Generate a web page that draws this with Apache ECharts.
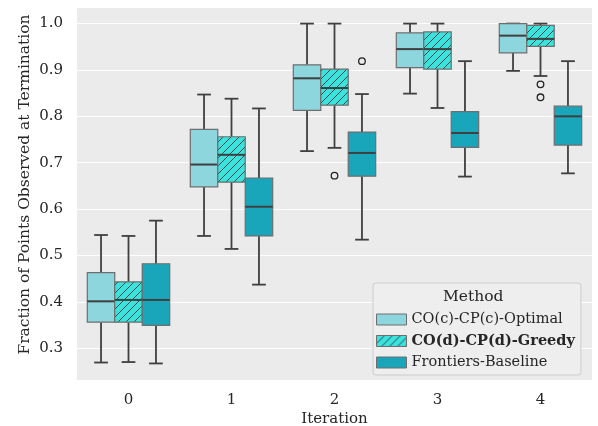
<!DOCTYPE html>
<html><head><meta charset="utf-8">
<script src="https://cdn.jsdelivr.net/npm/echarts@6/dist/echarts.min.js"></script>
<style>html,body{margin:0;padding:0;background:#fff}#c{width:598px;height:426px}</style>
</head><body><div id="c"></div>
<script>
// ---- data ----
const categories = ['0', '1', '2', '3', '4'];
const methodNames = ['CO(c)-CP(c)-Optimal', 'CO(d)-CP(d)-Greedy', 'Frontiers-Baseline'];
// [min, q1, median, q3, max] per iteration
const optimalStats = [
  [0.269, 0.356, 0.401, 0.463, 0.544],
  [0.542, 0.648, 0.696, 0.772, 0.847],
  [0.725, 0.813, 0.882, 0.911, 1.000],
  [0.849, 0.905, 0.945, 0.980, 1.000],
  [0.898, 0.937, 0.974, 1.000, 1.000]
];
const greedyStats = [
  [0.270, 0.356, 0.404, 0.443, 0.542],
  [0.514, 0.658, 0.717, 0.756, 0.838],
  [0.732, 0.824, 0.861, 0.902, 1.000],
  [0.818, 0.902, 0.945, 0.982, 1.000],
  [0.887, 0.951, 0.967, 0.996, 1.000]
];
const baselineStats = [
  [0.267, 0.349, 0.404, 0.482, 0.575],
  [0.437, 0.542, 0.605, 0.667, 0.817],
  [0.534, 0.671, 0.721, 0.766, 0.848],
  [0.670, 0.733, 0.764, 0.810, 0.919],
  [0.677, 0.738, 0.800, 0.822, 0.919]
];
// outliers: [iteration index, value]
const optimalOutliers = [];
const greedyOutliers = [[2, 0.672], [4, 0.869], [4, 0.841]];
const baselineOutliers = [[2, 0.919]];

// ---- styling ----
const fills = ['#8ED6DE', '#3BE3DE', '#1AA6BA'];
const boxEdge = '#6e6e6e';
const lineCol = '#3f3f3f';
const FONT = 'DejaVu Serif';

function hatchCanvas(bg, fg) {
  const s = 8, cv = document.createElement('canvas');
  cv.width = s; cv.height = s;
  const ctx = cv.getContext('2d');
  ctx.fillStyle = bg; ctx.fillRect(0, 0, s, s);
  ctx.strokeStyle = fg; ctx.lineWidth = 1;
  ctx.beginPath();
  ctx.moveTo(-1, s + 1); ctx.lineTo(s + 1, -1);
  ctx.moveTo(-1, 1); ctx.lineTo(1, -1);
  ctx.moveTo(s - 1, s + 1); ctx.lineTo(s + 1, s - 1);
  ctx.stroke();
  return cv;
}
const hatch = { image: hatchCanvas(fills[1], '#2e4a4a'), repeat: 'repeat' };
const fillStyles = [fills[0], hatch, fills[2]];

const allStats = [optimalStats, greedyStats, baselineStats];
const allOutliers = [optimalOutliers, greedyOutliers, baselineOutliers];

function boxRender(si) {
  return function (params, api) {
    const cat = api.value(0);
    const band = api.size([1, 0])[0];
    const bw = band * 0.8 / 3;
    const cx = api.coord([cat, api.value(3)])[0] + (si - 1) * bw;
    const y = k => api.coord([cat, api.value(k)])[1];
    const yMin = y(1), yQ1 = y(2), yMed = y(3), yQ3 = y(4), yMax = y(5);
    const capW = bw / 2;
    const ls = { stroke: lineCol, lineWidth: 1.8 };
    return {
      type: 'group',
      children: [
        { type: 'line', shape: { x1: cx, y1: yQ1, x2: cx, y2: yMin }, style: ls },
        { type: 'line', shape: { x1: cx, y1: yQ3, x2: cx, y2: yMax }, style: ls },
        { type: 'line', shape: { x1: cx - capW / 2, y1: yMin, x2: cx + capW / 2, y2: yMin }, style: ls },
        { type: 'line', shape: { x1: cx - capW / 2, y1: yMax, x2: cx + capW / 2, y2: yMax }, style: ls },
        { type: 'rect', shape: { x: cx - bw / 2, y: yQ3, width: bw, height: yQ1 - yQ3 },
          style: { fill: fillStyles[si], stroke: boxEdge, lineWidth: 1.2 } },
        { type: 'line', shape: { x1: cx - bw / 2, y1: yMed, x2: cx + bw / 2, y2: yMed }, style: { stroke: lineCol, lineWidth: 2 } }
      ]
    };
  };
}
function outlierRender(si) {
  return function (params, api) {
    const cat = api.value(0);
    const band = api.size([1, 0])[0];
    const bw = band * 0.8 / 3;
    const p = api.coord([cat, api.value(1)]);
    return { type: 'circle', shape: { cx: p[0] + (si - 1) * bw, cy: p[1], r: 3.3 },
      style: { fill: 'none', stroke: '#222', lineWidth: 1.3 } };
  };
}

const series = [];
methodNames.forEach((name, si) => {
  series.push({
    name: name, type: 'custom', renderItem: boxRender(si),
    encode: { x: 0, y: [1, 2, 3, 4, 5] },
    itemStyle: { color: fillStyles[si], borderColor: boxEdge, borderWidth: 1 },
    data: allStats[si].map((s, i) => [i].concat(s)), z: 3
  });
  series.push({
    name: name + ' outliers', type: 'custom', renderItem: outlierRender(si),
    encode: { x: 0, y: 1 }, data: allOutliers[si], z: 4
  });
});

const chart = echarts.init(document.getElementById('c'), null, { renderer: 'canvas' });
chart.setOption({
  animation: false,
  backgroundColor: '#fff',
  textStyle: { fontFamily: FONT },
  grid: { left: 77, right: 6, top: 7, bottom: 46, show: true, backgroundColor: '#EBEBEB', borderWidth: 0,
    containLabel: false, outerBoundsMode: 'none' },
  xAxis: {
    type: 'category', data: categories, boundaryGap: true,
    name: 'Iteration', nameLocation: 'middle', nameGap: 32, nameMoveOverlap: false,
    nameTextStyle: { fontFamily: FONT, fontSize: 15, color: '#262626' },
    axisLine: { show: false }, axisTick: { show: false },
    axisLabel: { fontFamily: FONT, fontSize: 15, color: '#262626', margin: 13 },
    splitLine: { show: false }
  },
  yAxis: {
    type: 'value', min: 0.2313, max: 1.0358, splitNumber: 8,
    name: 'Fraction of Points Observed at Termination', nameLocation: 'middle', nameGap: 44, nameMoveOverlap: false,
    nameTextStyle: { fontFamily: FONT, fontSize: 15.5, color: '#262626', padding: [0, 0, 0, 18] },
    axisLine: { show: false }, axisTick: { show: false },
    axisLabel: { fontFamily: FONT, fontSize: 15, color: '#262626', margin: 14,
      showMinLabel: false, showMaxLabel: false, formatter: v => v.toFixed(1) },
    splitLine: { show: true, lineStyle: { color: '#ffffff', width: 1.2 } }
  },
  legend: {
    orient: 'vertical', left: 373, top: 283, width: 212,
    padding: [29, 6, 5, 3], itemGap: 6.5, itemWidth: 30, itemHeight: 11,
    backgroundColor: '#EEEEEE', borderColor: '#CCCCCC', borderWidth: 1, borderRadius: 3,
    icon: 'rect',
    data: methodNames.map((n, i) => ({ name: n, itemStyle: { color: fillStyles[i], borderColor: boxEdge, borderWidth: 1 } })),
    formatter: n => n === methodNames[1] ? '{b|' + n + '}' : n,
    textStyle: { fontFamily: FONT, fontSize: 14.5, color: '#262626',
      rich: { b: { fontFamily: FONT, fontSize: 14.5, fontWeight: 'bold', color: '#262626' } } }
  },
  graphic: [{
    type: 'text', left: 443, top: 289, z: 100,
    style: { text: 'Method', fontFamily: FONT, fontSize: 15.5, fill: '#262626' }
  }],
  series: series
});
</script></body></html>
